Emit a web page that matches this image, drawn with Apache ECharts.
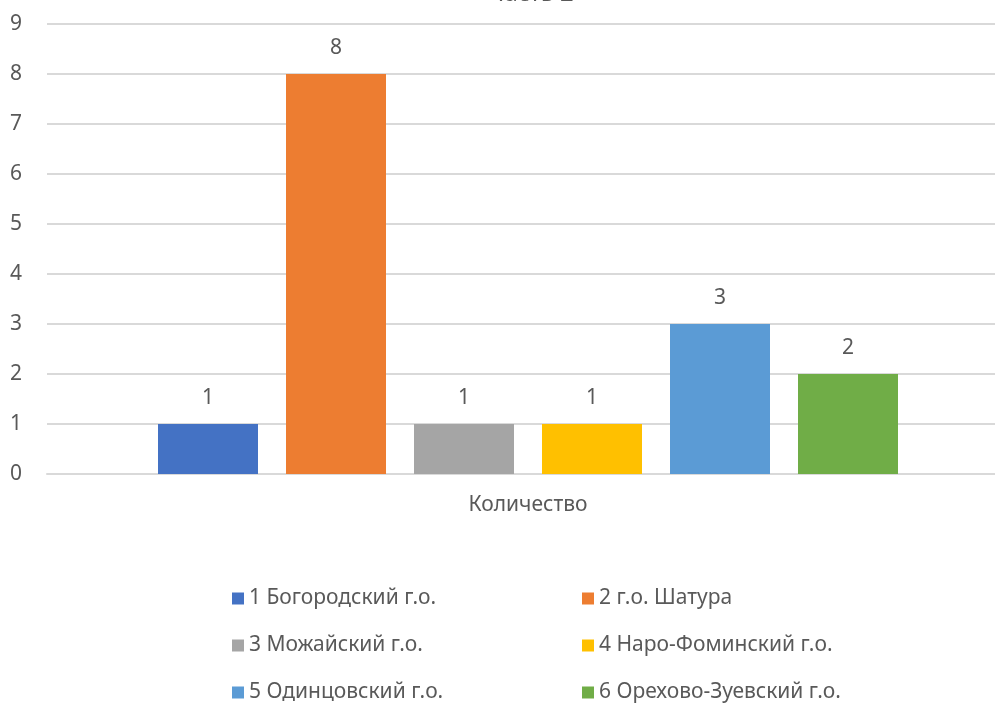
<!DOCTYPE html>
<html>
<head>
<meta charset="utf-8">
<script src="https://cdn.jsdelivr.net/npm/echarts@6/dist/echarts.min.js"></script>
<style>
  html, body { margin: 0; padding: 0; background: #fff; }
  #chart { width: 995px; height: 706px; }
</style>
</head>
<body>
<div id="chart"></div>
<script>
var categories = ['Количество'];
var seriesNames = ['1 Богородский г.о.', '2 г.о. Шатура', '3 Можайский г.о.', '4 Наро-Фоминский г.о.', '5 Одинцовский г.о.', '6 Орехово-Зуевский г.о.'];
var seriesValues = [1, 8, 1, 1, 3, 2];
var colors = ['#4472C4', '#ED7D31', '#A5A5A5', '#FFC000', '#5B9BD5', '#70AD47'];
var yTicks = [0, 1, 2, 3, 4, 5, 6, 7, 8, 9];

var font = 'Noto Sans';
var textColor = '#595959';
var fs = 21;

var series = seriesNames.map(function (name, i) {
  return {
    name: name,
    type: 'bar',
    data: [seriesValues[i]],
    barWidth: 100,
    barGap: '28%',
    itemStyle: { color: colors[i] },
    label: {
      show: true,
      position: 'top',
      distance: 15,
      color: textColor,
      fontSize: fs,
      fontFamily: font
    }
  };
});

// legend laid out as 2 columns x 3 rows
var legends = seriesNames.map(function (name, i) {
  return {
    data: [name],
    left: i % 2 === 0 ? 232 : 582,
    top: 588 + Math.floor(i / 2) * 47,
    padding: 0,
    itemWidth: 12,
    itemHeight: 12,
    itemGap: 9,
    itemTextGap: 9,
    icon: 'rect',
    selectedMode: false,
    textStyle: { color: textColor, fontSize: fs, fontFamily: font }
  };
});

var chart = echarts.init(document.getElementById('chart'));
chart.setOption({
  animation: false,
  backgroundColor: '#fff',
  // title is cut off by the top edge, only its lower part shows
  title: {
    text: 'Часть 2',
    left: 531,
    textAlign: 'center',
    top: -18,
    padding: 0,
    textStyle: { color: textColor, fontSize: 24, fontWeight: 'normal', fontFamily: font }
  },
  legend: legends,
  // the plot area runs a little past the right edge of the picture
  grid: { left: 47, right: -14, top: 24, bottom: 232, outerBoundsMode: 'none' },
  xAxis: {
    type: 'category',
    data: categories,
    axisLine: { lineStyle: { color: '#D9D9D9', width: 2 } },
    axisTick: { show: false },
    axisLabel: { color: textColor, fontSize: fs, fontFamily: font, margin: 21 }
  },
  yAxis: {
    type: 'value',
    min: yTicks[0],
    max: yTicks[yTicks.length - 1],
    interval: 1,
    axisLine: { show: false },
    axisTick: { show: false },
    splitLine: { lineStyle: { color: '#D9D9D9', width: 2 } },
    axisLabel: { color: textColor, fontSize: fs, fontFamily: font, margin: 25 }
  },
  series: series
});
</script>
</body>
</html>
